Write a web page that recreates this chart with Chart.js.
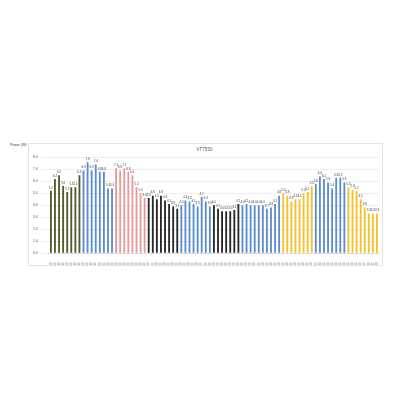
<!DOCTYPE html>
<html>
<head>
<meta charset="utf-8">
<script src="https://cdn.jsdelivr.net/npm/chart.js@4/dist/chart.umd.min.js"></script>
<style>
  html, body { margin: 0; padding: 0; background: #fff; }
  body { width: 400px; height: 400px; position: relative; overflow: hidden; }
  #wrap { position: absolute; left: 28px; top: 143px; width: 355px; height: 123px;
          border: 1px solid #e3e3e3; box-sizing: border-box; }
  #ylab { position: absolute; left: 10px; top: 143px; font: 3.5px "Liberation Sans", sans-serif; color: #404040; }
</style>
</head>
<body>
<div id="ylab">Power (W)</div>
<div id="wrap"><canvas id="c"></canvas></div>
<script>
// time slots (15 min)
const times = [
  '04:00','04:15','04:30','04:45','05:00','05:15','05:30','05:45',
  '06:00','06:15','06:30','06:45','07:00','07:15','07:30','07:45',
  '08:00','08:15','08:30','08:45','09:00','09:15','09:30','09:45',
  '10:00','10:15','10:30','10:45','11:00','11:15','11:30','11:45',
  '12:00','12:15','12:30','12:45','13:00','13:15','13:30','13:45',
  '14:00','14:15','14:30','14:45','15:00','15:15','15:30',
  '15:45','16:00','16:15','16:30','16:45','17:00','17:15','17:30','17:45','18:00',
  '18:15','18:30','18:45','19:00','19:15','19:30','19:45','20:00',
  '20:15','20:30','20:45','21:00','21:15','21:30','21:45','22:00',
  '22:15','22:30','22:45','23:00','23:15','23:30','23:45','24:00'
];

// power values
const power = [
  5.2, 6.2, 6.5, 5.6, 5.1, 5.5, 5.5, 6.5,
  6.9, 7.6, 6.9, 7.4, 6.8, 6.8, 5.4, 5.4,
  7.1, 6.9, 7.1, 6.8, 6.5, 5.5, 5.0, 4.6,
  4.6, 4.8, 4.5, 4.8, 4.4, 4.1, 3.9, 3.7,
  4.0, 4.4, 4.3, 4.1, 3.9, 4.7, 4.3, 3.9,
  4.0, 3.7, 3.5, 3.5, 3.5, 3.6, 4.1,
  4.0, 4.1, 4.0, 4.0, 4.0, 4.0, 3.7, 3.8, 4.1, 4.8,
  5.0, 4.8, 4.3, 4.5, 4.5, 5.0, 5.1, 5.6,
  5.8, 6.4, 6.2, 5.9, 5.4, 6.3, 6.3, 5.9,
  5.5, 5.3, 5.2, 4.5, 3.8, 3.3, 3.3, 3.3
];

const yTicks = [0, 1, 2, 3, 4, 5, 6, 7, 8];

// colour runs (count of bars, colour)
const runs = [
  [8, '#4e5a2c'], [8, '#5b8bd0'], [8, '#e59a9a'], [8, '#262626'],
  [8, '#5b8bd0'], [7, '#262626'], [10, '#5b8bd0'], [8, '#f5c02a'],
  [8, '#5b8bd0'], [8, '#f5c02a']
];
const barColors = [];
runs.forEach(r => { for (let i = 0; i < r[0]; i++) barColors.push(r[1]); });

const FONT = 'Liberation Sans';

// values above the bars
const valueLabels = {
  id: 'valueLabels',
  afterDatasetsDraw(chart) {
    const ctx = chart.ctx;
    const meta = chart.getDatasetMeta(0);
    ctx.save();
    ctx.font = '3px "' + FONT + '"';
    ctx.fillStyle = '#404040';
    ctx.textAlign = 'center';
    ctx.textBaseline = 'bottom';
    meta.data.forEach((bar, i) => {
      ctx.fillText(power[i].toFixed(1), bar.x, bar.y - 1.5);
    });
    ctx.restore();
  }
};

new Chart(document.getElementById('c'), {
  type: 'bar',
  data: {
    labels: times,
    datasets: [{
      label: 'Power',
      data: power,
      backgroundColor: barColors,
      borderWidth: 0,
      barPercentage: 0.45,
      categoryPercentage: 1.0
    }]
  },
  options: {
    responsive: true,
    maintainAspectRatio: false,
    animation: false,
    layout: { padding: { left: 1, right: 3, top: 1, bottom: 0 } },
    plugins: {
      legend: { display: false },
      tooltip: { enabled: false },
      title: {
        display: true,
        text: 'VT7550',
        color: '#595959',
        font: { family: FONT, size: 4.5, weight: 'normal' },
        padding: { top: 2, bottom: 5 }
      }
    },
    scales: {
      x: {
        grid: { display: false },
        border: { color: '#d9d9d9' },
        afterFit(scale) { scale.height = 12; },
        ticks: {
          autoSkip: false, maxRotation: 90, minRotation: 90,
          color: '#808080', padding: 1.5,
          font: { family: FONT, size: 2.7 }
        }
      },
      y: {
        min: 0, max: 8,
        afterBuildTicks(axis) { axis.ticks = yTicks.map(v => ({ value: v })); },
        grid: { color: '#e6e6e6', lineWidth: 0.7 },
        border: { display: false },
        ticks: {
          color: '#595959', padding: 3,
          font: { family: FONT, size: 3.5 },
          callback: v => v.toFixed(1)
        }
      }
    }
  },
  plugins: [valueLabels]
});
</script>
</body>
</html>
